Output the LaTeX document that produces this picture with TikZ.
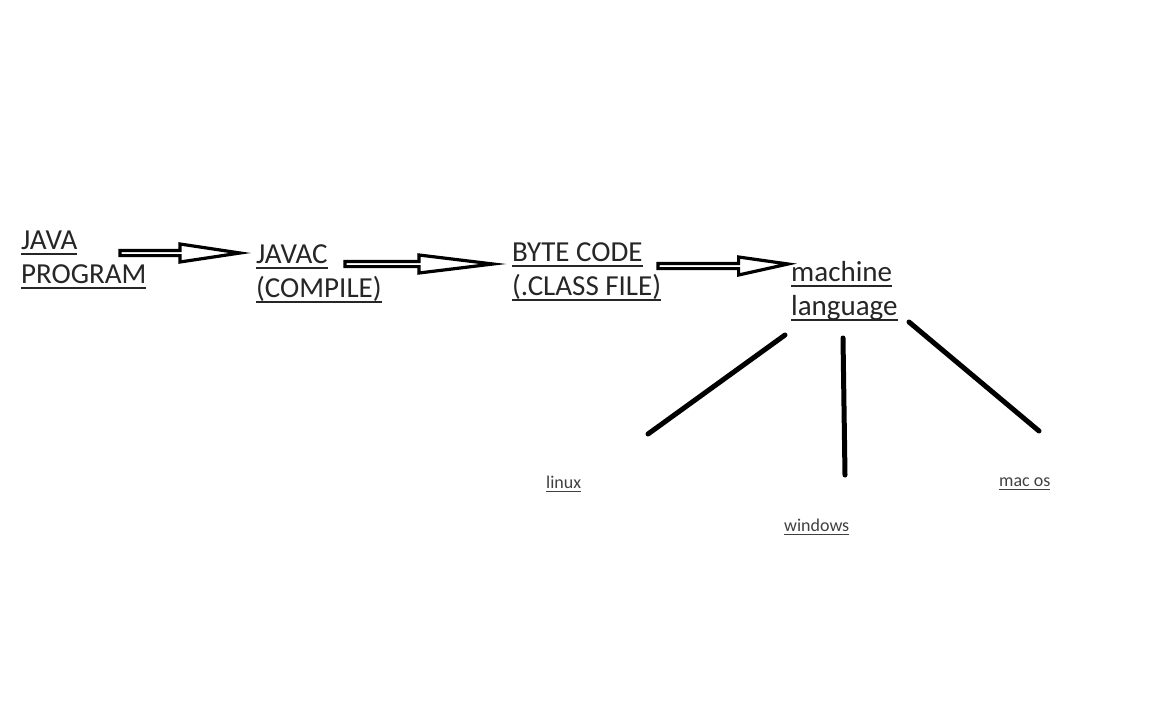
\documentclass[tikz,border=0pt]{standalone}
\usepackage{fontspec}
\setmainfont{Carlito}
\usetikzlibrary{calc}
\definecolor{txtbig}{HTML}{262626}
\definecolor{txtsmall}{HTML}{404040}
\newcommand{\undr}[1]{\setbox0=\hbox{#1}\rlap{\rule[-.22em]{\wd0}{.07em}}\box0}

\begin{document}
\begin{tikzpicture}
[x=1pt,y=-1pt,
 big/.style={anchor=base west,align=left,inner sep=0pt,text=txtbig,
   font=\fontsize{29}{34}\selectfont},
 small/.style={anchor=base west,inner sep=0pt,text=txtsmall,
   font=\fontsize{18}{22}\selectfont},
 fatarrow/.style={line width=3.2pt,line join=miter,to path={
   let \p1=(\tikztostart), \p2=(\tikztotarget),
       \p3=($(\tikztostart)!#1!(\tikztotarget)$) in
   (\x1,{\y1+2.6pt}) -- (\x3,{\y1+2.6pt}) -- (\x3,{\y1+9pt})
   -- (\x2,\y2) -- (\x3,{\y1-9pt}) -- (\x3,{\y1-2.6pt})
   -- (\x1,{\y1-2.6pt}) -- cycle}},
 fatarrow/.default=0.5,
 branch/.style={line width=5pt,line cap=round}]
\useasboundingbox (0,0) rectangle (1152,720);

% steps
\node[big] (java) at (21,283) {\undr{JAVA}\\\undr{PROGRAM}};
\node[big] (javac) at (256,297) {\undr{JAVAC}\\\undr{(COMPILE)}};
\node[big] (byte) at (512,295) {\undr{BYTE CODE}\\\undr{(.CLASS FILE)}};
\node[big] (mach) at (791,315) {\undr{machine}\\\undr{language}};

% platforms
\node[small] (linux) at (546,488) {\undr{linux}};
\node[small] (windows) at (784,531) {\undr{windows}};
\node[small] (macos) at (999,486) {\undr{mac os}};

% arrow ends
\coordinate (a1s) at (120,253);
\coordinate (a1e) at (240,253);
\coordinate (a2s) at (345,264);
\coordinate (a2e) at (493,264);
\coordinate (a3s) at (658,266);
\coordinate (a3e) at (788,264);

\draw[fatarrow] (a1s) to (a1e);
\draw[fatarrow] (a2s) to (a2e);
\draw[fatarrow=0.62] (a3s) to (a3e);

% branch ends
\coordinate (b1s) at (785,335);
\coordinate (b1e) at (648,434);
\coordinate (b2s) at (843,338);
\coordinate (b2e) at (845,475);
\coordinate (b3s) at (909,322);
\coordinate (b3e) at (1039,431);

\draw[branch] (b1s) -- (b1e);
\draw[branch] (b2s) -- (b2e);
\draw[branch] (b3s) -- (b3e);
\end{tikzpicture}
\end{document}
